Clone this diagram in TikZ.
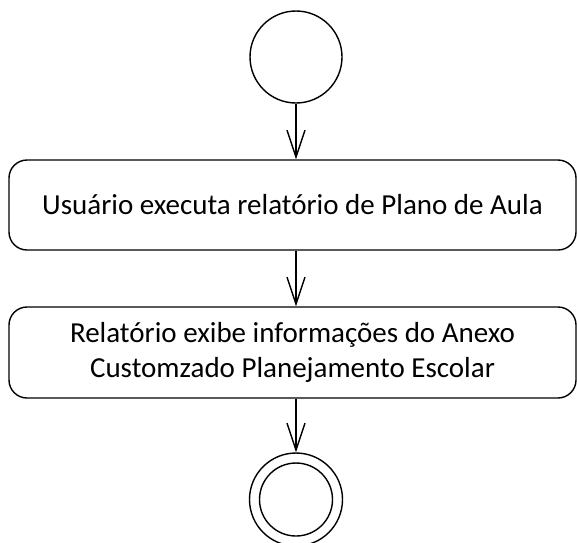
\documentclass[tikz,border=0pt]{standalone}
\usepackage{fontspec}
\setmainfont{Carlito}
\usetikzlibrary{arrows.meta}
\tikzset{
  line/.style={line width=1.4pt, draw=black},
  actbox/.style={line, rectangle, rounded corners=18pt, minimum width=567pt, minimum height=90pt, align=center, inner sep=0pt, font=\fontsize{29}{35}\selectfont},
  flow/.style={line, -{Straight Barb[length=27pt,width=18pt,line width=1.4pt]}},
}
\begin{document}
\begin{tikzpicture}[x=1pt,y=-1pt]
\useasboundingbox (0,0) rectangle (577,542);
\node[line, circle, minimum size=92pt, inner sep=0pt] (start) at (296,57) {};
\node[actbox] (box1) at (292.5,205) {Usuário executa relatório de Plano de Aula};
\node[actbox, minimum height=91pt] (box2) at (292.5,352.5) {Relatório exibe informações do Anexo\\Customzado Planejamento Escolar};
\node[line, circle, minimum size=93pt, inner sep=0pt] (final) at (296,499.5) {};
\node[line, circle, minimum size=73pt, inner sep=0pt] (finalin) at (final.center) {};
\draw[flow] (start.south) -- (start.south |- box1.north);
\draw[flow] (start.south |- box1.south) -- (start.south |- box2.north);
\draw[flow] (start.south |- box2.south) -- (final.north);
\end{tikzpicture}
\end{document}
